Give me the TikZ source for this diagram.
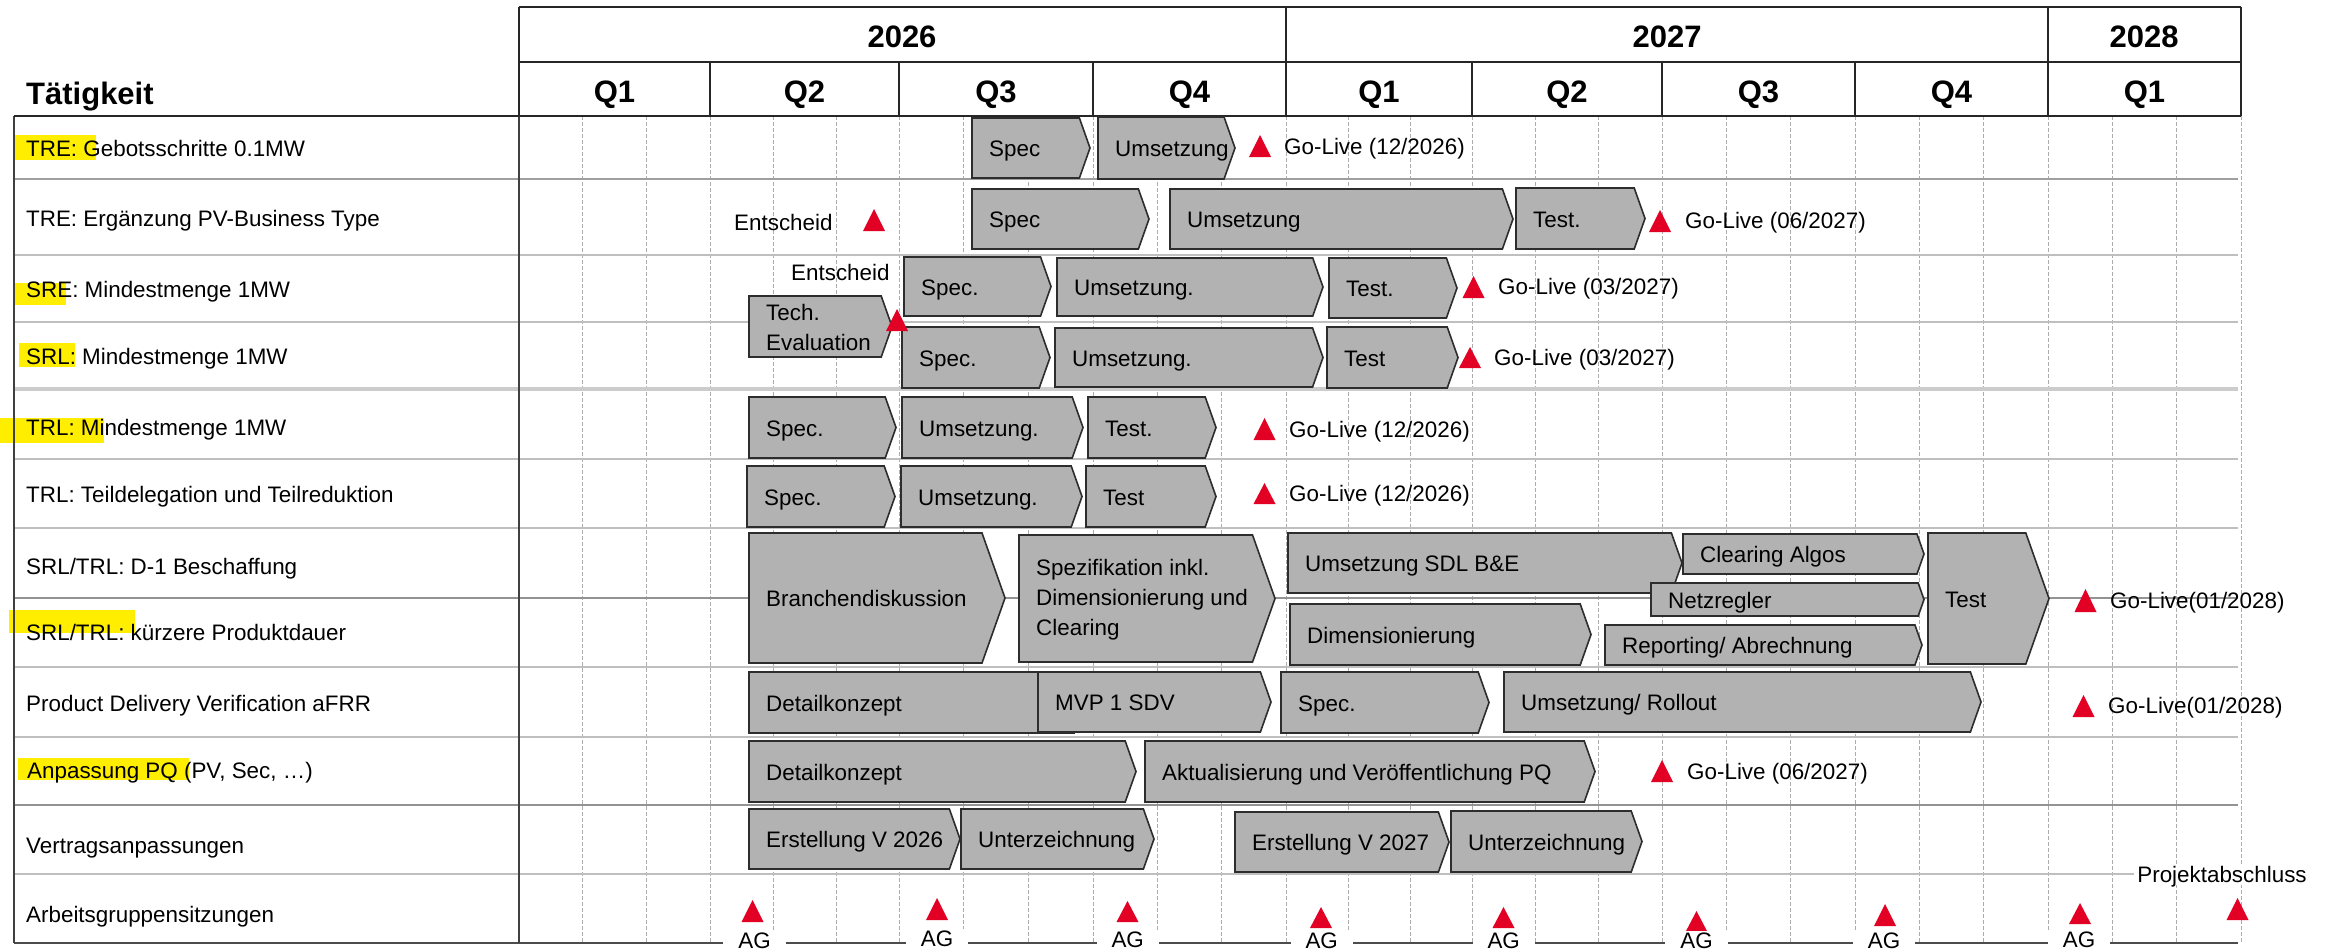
\documentclass[tikz,border=0pt]{standalone}
\usepackage{fontspec}
\setmainfont{Liberation Sans}
\newcommand\gfs{\fontsize{22.4}{30}\selectfont}
\newcommand\gfh{\fontsize{31}{36}\selectfont\bfseries}
\definecolor{barfill}{RGB}{178,178,178}
\definecolor{barline}{RGB}{45,45,45}
\definecolor{msred}{RGB}{226,0,36}
\definecolor{hl}{RGB}{255,238,0}
\tikzset{
 barstyle/.style={fill=barfill, draw=barline, line width=1.6pt, line join=miter},
 bartext/.style={anchor=west, inner sep=0pt, font=\gfs, text height=15.8pt, text depth=0pt},
 bartextm/.style={anchor=west, inner sep=0pt, font=\gfs, align=left},
 lbl/.style={anchor=west, inner sep=0pt, font=\gfs, text height=15.8pt, text depth=0pt},
 hdrline/.style={draw=black!85, line width=2.4pt},
 hdrtext/.style={inner sep=0pt, font=\gfh, text height=22.2pt, text depth=0pt},
 rowline/.style={draw=gray!50, line width=1.2pt},
 monthline/.style={draw=gray!65, line width=0.8pt, dash pattern=on 4pt off 2pt},
 aglbl/.style={fill=white, inner xsep=15pt, inner ysep=2pt, font=\gfs, text height=15.8pt, text depth=0pt},
 hlbox/.style={fill=hl},
}
\newcommand\gbar[6]{%
  \pgfmathsetmacro\gbd{(#5-#3)*0.177}%
  \pgfmathsetmacro\gbm{(#3+#5)/2}%
  \draw[barstyle] (#2,#3) -- ({#4-\gbd},#3) -- (#4,\gbm) -- ({#4-\gbd},#5) -- (#2,#5) -- cycle;
  \node[bartext] (#1) at ({#2+17},{\gbm+1}) {#6};}
\newcommand\gbarm[6]{%
  \pgfmathsetmacro\gbd{(#5-#3)*0.177}%
  \pgfmathsetmacro\gbm{(#3+#5)/2}%
  \draw[barstyle] (#2,#3) -- ({#4-\gbd},#3) -- (#4,\gbm) -- ({#4-\gbd},#5) -- (#2,#5) -- cycle;
  \node[bartextm] (#1) at ({#2+17},{\gbm+1}) {#6};}
\newcommand\ms[3]{\fill[msred] ({#1-11},#3) -- (#1,#2) -- ({#1+11},#3) -- cycle;}
\begin{document}
\begin{tikzpicture}[x=1pt,y=-1pt]
\useasboundingbox[fill=white] (0,0) rectangle (2333,951);
% highlights
\fill[hlbox] (15,135) rectangle (96,160);
\fill[hlbox] (13,283) rectangle (66,305);
\fill[hlbox] (19,343) rectangle (75,367);
\fill[hlbox] (0,418) rectangle (104,443);
\fill[hlbox] (9,610) rectangle (135,633);
\fill[hlbox] (18,758) rectangle (189,780);
% month and quarter grid lines
\foreach \a/\b in {519/710,710/899,899/1093,1093/1286,1286/1472,1472/1662,1662/1855,1855/2048,2048/2241}{
  \draw[monthline] ({\a+(\b-\a)/3},116) -- ({\a+(\b-\a)/3},943);
  \draw[monthline] ({\a+2*(\b-\a)/3},116) -- ({\a+2*(\b-\a)/3},943);
  \draw[monthline] (\b,116) -- (\b,943);
}
% row lines
\foreach \y in {255,322,459,528,667,737,874}{\draw[rowline] (14,\y) -- (2238,\y);}
\draw[rowline, draw=gray!75, line width=1.6pt] (14,179) -- (2238,179);
\draw[rowline, draw=gray!40, line width=3.5pt] (14,389) -- (2238,389);
\draw[rowline, draw=gray!85, line width=1.6pt] (14,598) -- (2238,598);
\draw[rowline, draw=gray!85, line width=1.6pt] (14,805) -- (2238,805);
\draw[draw=black!70, line width=2pt] (14,943) -- (2238,943);
% frame
\draw[draw=black!75, line width=2pt] (14,116) -- (14,943);
\draw[draw=black!75, line width=2pt] (519,116) -- (519,943);
% header
\draw[hdrline] (519,7) -- (2241,7);
\draw[hdrline] (519,62) -- (2241,62);
\draw[hdrline] (14,116) -- (2241,116);
\draw[hdrline] (519,7) -- (519,116);
\draw[hdrline] (1286,7) -- (1286,116);
\draw[hdrline] (2048,7) -- (2048,116);
\draw[hdrline] (2241,7) -- (2241,116);
\foreach \x in {710,899,1093,1472,1662,1855}{\draw[hdrline] (\x,62) -- (\x,116);}
\node[hdrtext, anchor=west] (taet) at (26,93) {Tätigkeit};
\node[hdrtext] (y26) at (902,36) {2026};
\node[hdrtext] (y27) at (1667,36) {2027};
\node[hdrtext] (y28) at (2144,36) {2028};
\foreach \a/\b/\q/\n in {519/710/Q1/qa,710/899/Q2/qb,899/1093/Q3/qc,1093/1286/Q4/qd,1286/1472/Q1/qe,1472/1662/Q2/qf,1662/1855/Q3/qg,1855/2048/Q4/qh,2048/2241/Q1/qi}{
  \node[hdrtext] (\n) at ({(\a+\b)/2},91) {\q};}
% row labels
\node[lbl] (l1) at (26,149) {TRE: Gebotsschritte 0.1MW};
\node[lbl] (l2) at (26,219) {TRE: Ergänzung PV-Business Type};
\node[lbl] (l3) at (26,290) {SRE: Mindestmenge 1MW};
\node[lbl] (l4) at (26,357) {SRL: Mindestmenge 1MW};
\node[lbl] (l5) at (26,428) {TRL: Mindestmenge 1MW};
\node[lbl] (l6) at (26,495) {TRL: Teildelegation und Teilreduktion};
\node[lbl] (l7) at (26,567) {SRL/TRL: D-1 Beschaffung};
\node[lbl] (l8) at (26,633) {SRL/TRL: kürzere Produktdauer};
\node[lbl] (l9) at (26,704) {Product Delivery Verification aFRR};
\node[lbl] (l10) at (27,771) {Anpassung PQ (PV, Sec, …)};
\node[lbl] (l11) at (26,846) {Vertragsanpassungen};
\node[lbl] (l12) at (26,915) {Arbeitsgruppensitzungen};
% bars row 1
\gbar{r1a}{972}{118}{1090}{178}{Spec}
\gbar{r1b}{1098}{117}{1235}{179}{Umsetzung}
% row 2
\gbar{r2a}{972}{189}{1149}{249}{Spec}
\gbar{r2b}{1170}{189}{1513}{249}{Umsetzung}
\gbar{r2c}{1516}{188}{1645}{249}{Test.}
% row 3
\gbar{r3a}{904}{257}{1051}{316}{Spec.}
\gbar{r3b}{1057}{258}{1323}{316}{Umsetzung.}
\gbar{r3c}{1329}{258}{1457}{318}{Test.}
\gbarm{r3t}{749}{296}{892}{357}{Tech.\\Evaluation}
% row 4
\gbar{r4a}{902}{327}{1050}{388}{Spec.}
\gbar{r4b}{1055}{328}{1323}{387}{Umsetzung.}
\gbar{r4c}{1327}{327}{1458}{388}{Test}
% row 5
\gbar{r5a}{749}{397}{896}{458}{Spec.}
\gbar{r5b}{902}{397}{1083}{458}{Umsetzung.}
\gbar{r5c}{1088}{397}{1216}{458}{Test.}
% row 6
\gbar{r6a}{747}{466}{895}{527}{Spec.}
\gbar{r6b}{901}{466}{1082}{527}{Umsetzung.}
\gbar{r6c}{1086}{466}{1216}{527}{Test}
% rows 7/8
\gbar{r7a}{749}{533}{1005}{663}{Branchendiskussion}
\gbarm{r7b}{1019}{535}{1275}{662}{Spezifikation inkl.\\Dimensionierung und\\Clearing}
\gbar{r7c}{1288}{533}{1682}{593}{Umsetzung SDL B\&E}
\gbar{r7d}{1683}{534}{1924}{574}{Clearing Algos}
\gbar{r7e}{1651}{583}{1924}{616}{Netzregler}
\gbar{r8a}{1290}{604}{1591}{665}{Dimensionierung}
\gbar{r8b}{1605}{625}{1922}{665}{Reporting/ Abrechnung}
\gbar{r7f}{1928}{533}{2049}{664}{Test}
% row 9
\gbar{r9a}{749}{672}{1085}{733}{Detailkonzept}
\gbar{r9b}{1038}{672}{1271}{732}{MVP 1 SDV}
\gbar{r9c}{1281}{672}{1489}{733}{Spec.}
\gbar{r9d}{1504}{672}{1981}{732}{Umsetzung/ Rollout}
% row 10
\gbar{r10a}{749}{741}{1136}{802}{Detailkonzept}
\gbar{r10b}{1145}{741}{1595}{802}{Aktualisierung und Veröffentlichung PQ}
% row 11
\gbar{r11a}{749}{809}{960}{869}{Erstellung V 2026}
\gbar{r11b}{961}{809}{1154}{869}{Unterzeichnung}
\gbar{r11c}{1235}{812}{1449}{872}{Erstellung V 2027}
\gbar{r11d}{1451}{811}{1642}{872}{Unterzeichnung}
% milestones
\ms{1260}{135}{157}
\ms{874}{209}{231}
\ms{1660}{210}{232}
\ms{1473.5}{276}{298}
\ms{897}{309}{331}
\ms{1470}{347}{368}
\ms{1264.5}{418}{440}
\ms{1264.5}{483}{504}
\ms{2085.5}{589}{612}
\ms{2083.5}{695}{717}
\ms{1662}{760}{782}
\ms{752.5}{900}{922}
\ms{937}{898}{920}
\ms{1127.5}{901}{922}
\ms{1321}{907}{928}
\ms{1503.5}{907}{928}
\ms{1696.5}{911}{932}
\ms{1885}{904}{926}
\ms{2080}{903}{924}
\ms{2237.5}{898}{920}
% milestone labels
\node[lbl] (g1) at (1284,147) {Go-Live (12/2026)};
\node[lbl] (e2) at (734,223) {Entscheid};
\node[lbl] (g2) at (1685,221) {Go-Live (06/2027)};
\node[lbl] (e3) at (791,273) {Entscheid};
\node[lbl] (g3) at (1498,287) {Go-Live (03/2027)};
\node[lbl] (g4) at (1494,358) {Go-Live (03/2027)};
\node[lbl] (g5) at (1289,430) {Go-Live (12/2026)};
\node[lbl] (g6) at (1289,494) {Go-Live (12/2026)};
\node[lbl] (g8) at (2110,601) {Go-Live(01/2028)};
\node[lbl] (g9) at (2108,706) {Go-Live(01/2028)};
\node[lbl] (g10) at (1687,772) {Go-Live (06/2027)};
\node[aglbl, inner xsep=3pt] (pa) at (2222,875) {Projektabschluss};
\foreach \x/\y/\n in {754.5/941/ag1,937/939/ag2,1127.7/940/ag3,1321.7/941/ag4,1503.7/941/ag5,1696.6/941/ag6,1884/941/ag7,2079/940/ag8}{
  \node[aglbl] (\n) at (\x,\y) {AG};}
\end{tikzpicture}
\end{document}
